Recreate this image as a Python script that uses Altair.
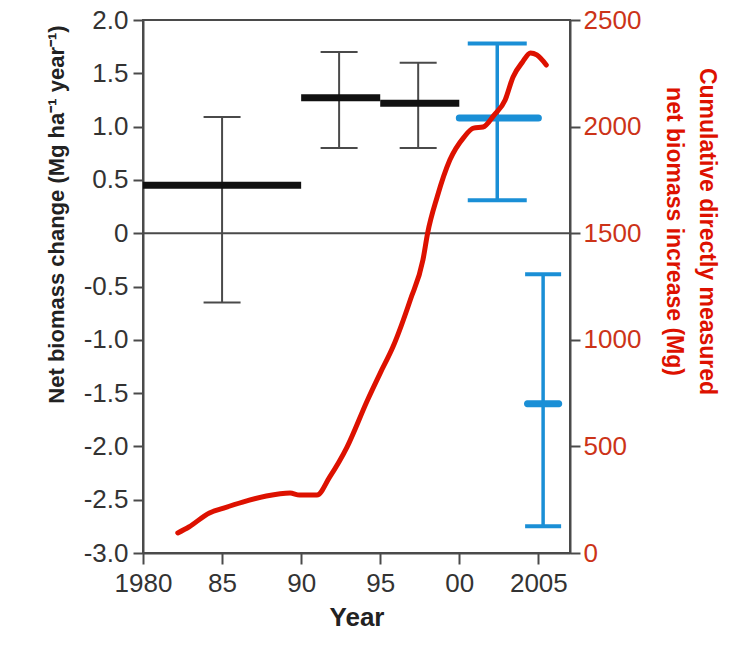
import altair as alt
import pandas as pd

# ---- data ----
# period means of net biomass change (Mg ha-1 yr-1)
period_start = [1980, 1990, 1995, 2000]
period_end = [1990, 1995, 2000, 2005]
period_mean = [0.45, 1.27, 1.22, 1.08]
period_group = ["census", "census", "census", "recent"]

# error bars for the periods
err_year = [1985.0, 1992.4, 1997.4, 2002.4]
err_low = [-0.65, 0.80, 0.80, 0.31]
err_high = [1.09, 1.70, 1.60, 1.78]
err_group = ["census", "census", "census", "recent"]

# separate (blue) estimate near 2005
sep_year = [2005.3]
sep_mean = [-1.60]
sep_low = [-2.75]
sep_high = [-0.385]

# cumulative directly measured net biomass increase (Mg)
cum_year = [1982.2, 1982.9, 1984.2, 1985.1, 1986.3, 1987.8, 1989.3, 1989.9,
            1991.0, 1991.8, 1992.9, 1994.2, 1995.0, 1995.8, 1996.9, 1997.7,
            1998.0, 1998.6, 1999.4, 2000.3, 2000.9, 2001.5, 2002.2, 2002.9,
            2003.4, 2004.0, 2004.5, 2004.9, 2005.5]
cum_value = [94, 122, 188, 211, 239, 267, 281, 272,
             272, 356, 497, 718, 844, 966, 1187, 1374,
             1501, 1670, 1843, 1951, 1993, 1998, 2054, 2125,
             2233, 2303, 2345, 2336, 2289]

x_ticks = [1980, 1985, 1990, 1995, 2000, 2005]
y_left_ticks = [-3.0, -2.5, -2.0, -1.5, -1.0, -0.5, 0.0, 0.5, 1.0, 1.5, 2.0]
y_right_ticks = [0, 500, 1000, 1500, 2000, 2500]

# ---- tables ----
periods = pd.DataFrame({"start": period_start, "end": period_end,
                        "mean": period_mean, "group": period_group})
errs = pd.DataFrame({"year": err_year, "low": err_low, "high": err_high,
                     "group": err_group})
sep = pd.DataFrame({"year": sep_year, "mean": sep_mean, "low": sep_low,
                    "high": sep_high})
cum = pd.DataFrame({"year": cum_year, "value": cum_value})
zero = pd.DataFrame({"v": [0.0]})

FONT = "Liberation Sans"
AXIS_C = "#4a4a4a"
BLACK = "#111111"
BLUE = "#1a8fd6"
RED = "#dd1100"
RED_LBL = "#cc3318"

x_scale = alt.Scale(domain=[1980, 2007], nice=False, zero=False)
yl_scale = alt.Scale(domain=[-3, 2], nice=False, zero=False)
yr_scale = alt.Scale(domain=[0, 2500], nice=False)

x_axis = alt.Axis(
    values=x_ticks, title="Year",
    labelExpr="datum.value == 1980 || datum.value == 2005 ? toString(datum.value) : substring(toString(datum.value), 2, 4)",
    labelFontSize=26, labelColor="#333333", labelPadding=6, labelFlush=False,
    titleFontSize=26, titleFontWeight="bold", titleColor="#222222", titlePadding=8,
    tickSize=11,
)
yl_axis = alt.Axis(
    values=y_left_ticks, title="Net biomass change (Mg ha\u207b\u00b9 year\u207b\u00b9)",
    labelExpr="datum.value == 0 ? '0' : replace(format(datum.value, '.1f'), '\u2212', '-')",
    labelFontSize=26, labelColor="#333333", labelPadding=5, tickSize=10, labelFlush=False,
    titleFontSize=22, titleFontWeight="bold", titleColor="#222222",
    titleAngle=-90, titleX=-87, titleY=194, titleAlign="center", titleBaseline="middle",
)
yr_axis = alt.Axis(
    orient="right", values=y_right_ticks,
    title=["Cumulative directly measured", "net biomass increase (Mg)"],
    labelExpr="toString(datum.value)",
    labelFontSize=26, labelColor=RED_LBL, labelPadding=3, tickSize=10, labelFlush=False,
    titleFontSize=23, titleFontWeight="bold", titleColor=RED,
    titleAngle=90, titleX=136, titleY=211, titleAlign="center", titleBaseline="middle",
    titleLineHeight=33,
)

X = lambda f: alt.X(f, type="quantitative", scale=x_scale, axis=x_axis)
YL = lambda f: alt.Y(f, type="quantitative", scale=yl_scale, axis=yl_axis)

zero_rule = alt.Chart(zero).mark_rule(color=AXIS_C, strokeWidth=2).encode(y=YL("v"))

base_p = alt.Chart(periods)
base_e = alt.Chart(errs)

black_bars = base_p.transform_filter("datum.group == 'census'").mark_rule(
    color=BLACK, strokeWidth=7, strokeCap="butt").encode(x=X("start"), x2="end", y=YL("mean"))
black_err = base_e.transform_filter("datum.group == 'census'").mark_rule(
    color=AXIS_C, strokeWidth=2).encode(x=X("year"), y=YL("low"), y2="high")
black_cap_lo = base_e.transform_filter("datum.group == 'census'").mark_tick(
    orient="horizontal", size=37, thickness=2, color=AXIS_C, opacity=1).encode(x=X("year"), y=YL("low"))
black_cap_hi = base_e.transform_filter("datum.group == 'census'").mark_tick(
    orient="horizontal", size=37, thickness=2, color=AXIS_C, opacity=1).encode(x=X("year"), y=YL("high"))

blue_err = base_e.transform_filter("datum.group == 'recent'").mark_rule(
    color=BLUE, strokeWidth=3.5).encode(x=X("year"), y=YL("low"), y2="high")
blue_cap_lo = base_e.transform_filter("datum.group == 'recent'").mark_tick(
    orient="horizontal", size=59, thickness=4, color=BLUE, opacity=1).encode(x=X("year"), y=YL("low"))
blue_cap_hi = base_e.transform_filter("datum.group == 'recent'").mark_tick(
    orient="horizontal", size=59, thickness=4, color=BLUE, opacity=1).encode(x=X("year"), y=YL("high"))
blue_bar = base_p.transform_filter("datum.group == 'recent'").mark_rule(
    color=BLUE, strokeWidth=7, strokeCap="round").encode(x=X("start"), x2="end", y=YL("mean"))

base_s = alt.Chart(sep)
sep_err = base_s.mark_rule(color=BLUE, strokeWidth=3.5).encode(x=X("year"), y=YL("low"), y2="high")
sep_cap_lo = base_s.mark_tick(orient="horizontal", size=36, thickness=4, color=BLUE, opacity=1).encode(
    x=X("year"), y=YL("low"))
sep_cap_hi = base_s.mark_tick(orient="horizontal", size=36, thickness=4, color=BLUE, opacity=1).encode(
    x=X("year"), y=YL("high"))
sep_mean_t = base_s.mark_tick(orient="horizontal", size=38, thickness=7, color=BLUE, opacity=1,
                              cornerRadius=3).encode(x=X("year"), y=YL("mean"))

left = alt.layer(zero_rule, black_err, black_cap_lo, black_cap_hi, black_bars,
                 blue_err, blue_cap_lo, blue_cap_hi, blue_bar,
                 sep_err, sep_cap_lo, sep_cap_hi, sep_mean_t)

red_line = alt.Chart(cum).mark_line(
    color=RED, strokeWidth=5, strokeCap="round", interpolate="monotone").encode(
    x=X("year"), y=alt.Y("value:Q", scale=yr_scale, axis=yr_axis))

chart = alt.layer(left, red_line).resolve_scale(y="independent").properties(
    width=427, height=533,
    padding={"left": 143, "top": 20, "right": 178, "bottom": 103},
    autosize=alt.AutoSizeParams(type="none"),
    background="white",
).configure_axis(
    labelFont=FONT, titleFont=FONT, grid=False,
    domainColor=AXIS_C, domainWidth=2, tickColor=AXIS_C, tickWidth=2,
).configure_view(stroke=AXIS_C, strokeWidth=2)

chart.save("out.html", embed_options={"renderer": "svg", "actions": False})
